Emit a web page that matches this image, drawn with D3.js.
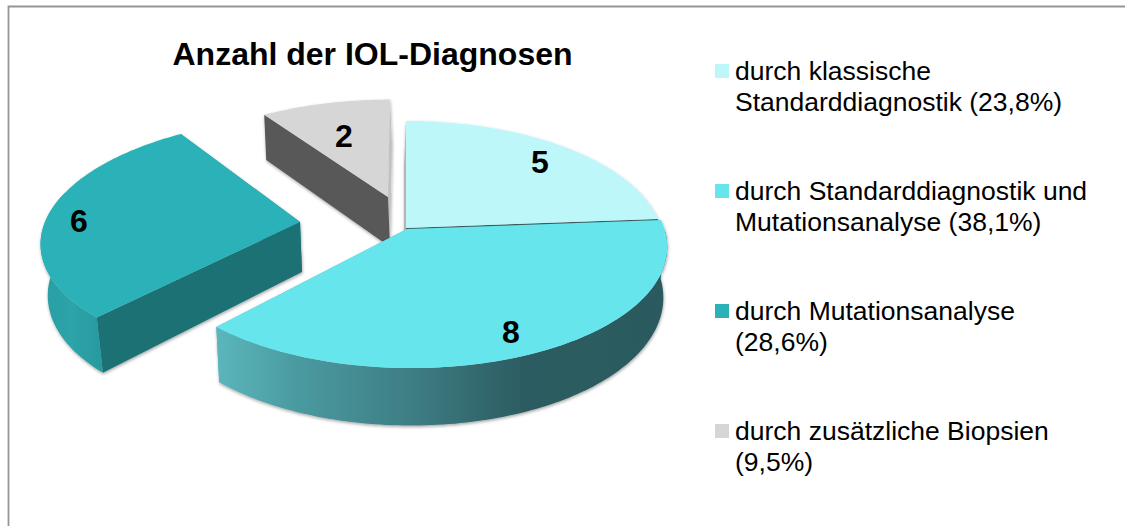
<!DOCTYPE html>
<html><head><meta charset="utf-8">
<script src="https://cdnjs.cloudflare.com/ajax/libs/d3/7.8.5/d3.min.js"></script>
<style>html,body{margin:0;padding:0;background:#fff}svg{display:block}text{font-family:"Liberation Sans",Arial,sans-serif;fill:#000}</style>
</head><body><svg id="c" width="1125" height="526"></svg>
<script>
const title = "Anzahl der IOL-Diagnosen";
const categories = ["klassisch","beides","mutation","biopsie"];
const values = [5, 8, 6, 2];
const legendLines = [
  ["durch klassische","Standarddiagnostik (23,8%)"],
  ["durch Standarddiagnostik und","Mutationsanalyse (38,1%)"],
  ["durch Mutationsanalyse","(28,6%)"],
  ["durch zusätzliche Biopsien","(9,5%)"]
];
const topColors = ["#BDF7FA","#66E6EC","#2BB2B8","#D6D6D6"];
// per-slice projection: apex, scale, shear, bottom shrink, bottom x shift
const geom = [
  {ax:406,ay:228,sx:1,  sy:1,  sh:0,    f:1,   dd:-2},
  {ax:407,ay:229,sx:1.01,sy:1, sh:.03,  f:.985,dd:0},
  {ax:300,ay:222,sx:1,  sy:.975,sh:-.12,f:.98, dd:2},
  {ax:388,ay:197,sx:.967,sy:.91,sh:-.02,f:1,   dd:2}
];
// [far face, near face], painted in that order
const cutColors = [["#B5B5B5","#3F5C5F"],["#2B5A5F","#5BB3B8"],["#1F8A8F","#1B7175"],["#C2C2C2","#595959"]];
const cutOrder = [["start","end"],["start","end"],["end","start"],["end","start"]];
const labelPos = [[540,162],[511,332],[79,221],[344,136]];

const RX=255, RY=121, K=.13, DEPTH=50;
const svg=d3.select("#c");
const defs=svg.append("defs");
const sh=defs.append("filter").attr("id","ds").attr("x","-10%").attr("y","-10%").attr("width","120%").attr("height","120%");
sh.append("feDropShadow").attr("dx",0.5).attr("dy",1.5).attr("stdDeviation",1.5).attr("flood-color","#000").attr("flood-opacity",.35);

const grad=defs.append("linearGradient").attr("id","wall8").attr("gradientUnits","userSpaceOnUse")
  .attr("x1",217).attr("x2",668).attr("y1",0).attr("y2",0);
[[0,"#5BB6BB"],[.18,"#4A9AA0"],[.42,"#3F7E85"],[.68,"#2C5C62"],[1,"#2A5A5E"]].forEach(s=>grad.append("stop").attr("offset",s[0]).attr("stop-color",s[1]));
const grad6=defs.append("linearGradient").attr("id","wall6").attr("gradientUnits","userSpaceOnUse")
  .attr("x1",41).attr("x2",102).attr("y1",0).attr("y2",0);
[[0,"#2A9FA4"],[.5,"#2DA3A8"],[1,"#279A9F"]].forEach(s=>grad6.append("stop").attr("offset",s[0]).attr("stop-color",s[1]));

// the frame is only visible along the top and the left of the picture
svg.append("path").attr("fill","none").attr("stroke","#969696").attr("stroke-width",1.8)
  .attr("d",d3.line()([[8.5,526],[8.5,6.5],[1125,6.5]]));

const pie=d3.pie().sort(null).value(d=>d)(values);
function proj(i,a,r){
  const g=geom[i],u=Math.sin(a)*r,v=Math.cos(a)*r,w=1+K*v;
  const x=RX*u/w*g.sx, y=-RY*v/w*g.sy;
  return {x:g.ax+x+g.sh*y, y:g.ay+y, w};
}
function drop(i,p){
  const g=geom[i];
  return [g.ax+(p.x-g.ax)*g.f+g.dd, p.y+DEPTH/p.w];
}
const line=d3.line().curve(d3.curveLinear);
function arcPts(i,a0,a1){
  const n=Math.max(2,Math.ceil((a1-a0)/.02));
  return d3.range(n+1).map(k=>proj(i,a0+(a1-a0)*k/n,1));
}
function drawSlice(i){
  const d=pie[i], gr=svg.append("g").attr("class","slice").attr("filter","url(#ds)");
  const apex=proj(i,0,0);
  const ends={start:proj(i,d.startAngle,1),end:proj(i,d.endAngle,1)};
  const face=(p,q,col)=>gr.append("path").attr("fill",col)
    .attr("d",line([[p.x,p.y],[q.x,q.y],drop(i,q),drop(i,p)])+"Z");
  cutOrder[i].forEach((k,n)=>{ if(i!==2||n===0) face(apex,ends[k],cutColors[i][n]); });
  const rim=arcPts(i,d.startAngle,d.endAngle);
  if(i===1||i===2){
    const a0=i===1?Math.PI/2:d.startAngle, a1=i===1?d.endAngle:d.startAngle+(d.endAngle-d.startAngle)*.6;
    const wp=arcPts(i,a0,a1);
    gr.append("path").attr("fill",i===1?"url(#wall8)":"url(#wall6)")
      .attr("d",line(wp.map(p=>[p.x,p.y]).concat(wp.slice().reverse().map(p=>drop(i,p))))+"Z");
  }
  if(i===2) face(apex,ends.start,cutColors[i][1]);
  gr.append("path").attr("fill",topColors[i])
    .attr("d",line([[apex.x,apex.y]].concat(rim.map(p=>[p.x,p.y])))+"Z");
}
[3,2,0,1].forEach(drawSlice);

svg.append("g").selectAll("text").data(values).join("text")
  .attr("x",(d,i)=>labelPos[i][0]).attr("y",(d,i)=>labelPos[i][1]+10.5)
  .attr("text-anchor","middle").attr("font-weight","bold").attr("font-size",32).text(d=>d);

svg.append("text").attr("x",372.5).attr("y",65).attr("text-anchor","middle")
  .attr("font-weight","bold").attr("font-size",32).text(title);

const legendY=d3.scalePoint().domain(categories).range([71,431]);
const lg=svg.append("g").selectAll("g").data(categories).join("g").attr("transform",d=>`translate(0,${legendY(d)})`);
lg.append("rect").attr("x",715).attr("y",-7).attr("width",14).attr("height",14).attr("fill",(d,i)=>topColors[i]);
lg.each(function(d,i){
  d3.select(this).selectAll("text").data(legendLines[i]).join("text")
    .attr("x",735).attr("y",(t,k)=>8.5+k*31.5).attr("font-size",26.5).text(t=>t);
});
</script></body></html>
